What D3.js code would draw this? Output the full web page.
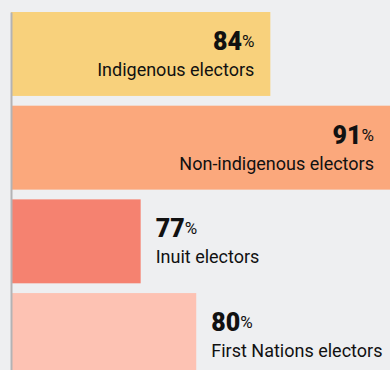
<!DOCTYPE html>
<html>
<head>
<meta charset="utf-8">
<script src="https://cdn.jsdelivr.net/npm/d3@7"></script>
<style>
  html, body { margin: 0; padding: 0; background: #eeeff1; }
  #chart { width: 390px; height: 370px; overflow: hidden; }
</style>
</head>
<body>
<div id="chart"></div>
<script>
const categories = ["Indigenous electors", "Non-indigenous electors", "Inuit electors", "First Nations electors"];
const values = [84, 91, 77, 80];
const colors = ["#f8d17c", "#fba87c", "#f58270", "#fdc2b3"];

const width = 390;
const height = 370;

const svg = d3.select("#chart")
  .append("svg")
  .attr("width", width)
  .attr("height", height)
  .attr("viewBox", [0, 0, width, height]);

const x = d3.scaleLinear()
  .domain([70, 91])
  .range([11, 400]);

const y = d3.scaleBand()
  .domain(categories)
  .range([12, 377])
  .paddingInner(0.104)
  .paddingOuter(0);

const data = categories.map((c, i) => ({ name: c, value: values[i], color: colors[i] }));

svg.append("g")
  .selectAll("rect")
  .data(data)
  .join("rect")
  .attr("x", x.range()[0])
  .attr("y", d => y(d.name))
  .attr("width", d => x(d.value) - x.range()[0])
  .attr("height", y.bandwidth())
  .attr("fill", d => d.color);

// vertical baseline
svg.append("g")
  .attr("transform", `translate(${x.range()[0]},0)`)
  .call(d3.axisLeft(y).tickSize(0).tickSizeOuter(0).tickFormat(""))
  .call(g => g.select(".domain").attr("stroke", "#b3b3b5").attr("stroke-width", 2));

const labels = svg.append("g")
  .style("font-family", "Roboto, sans-serif")
  .attr("fill", "#111");

// long bars get their label inside, short ones to the right
const inside = d => x(d.value) - x.range()[0] > 200;
const anchorX = d => inside(d) ? Math.min(x(d.value), width) - 16 : x(d.value) + 15;

const vt = labels.selectAll("text.value")
  .data(data)
  .join("text")
  .attr("class", "value")
  .attr("x", anchorX)
  .attr("y", d => y(d.name) + 38)
  .attr("text-anchor", d => inside(d) ? "end" : "start");

vt.append("tspan")
  .style("font-size", "25px")
  .style("font-weight", "900")
  .text(d => d.value);

vt.append("tspan")
  .style("font-size", "17px")
  .attr("dy", -3)
  .text("%");

labels.selectAll("text.name")
  .data(data)
  .join("text")
  .attr("class", "name")
  .attr("x", anchorX)
  .attr("y", d => y(d.name) + 64)
  .attr("text-anchor", d => inside(d) ? "end" : "start")
  .style("font-size", "18px")
  .text(d => d.name);
</script>
</body>
</html>
